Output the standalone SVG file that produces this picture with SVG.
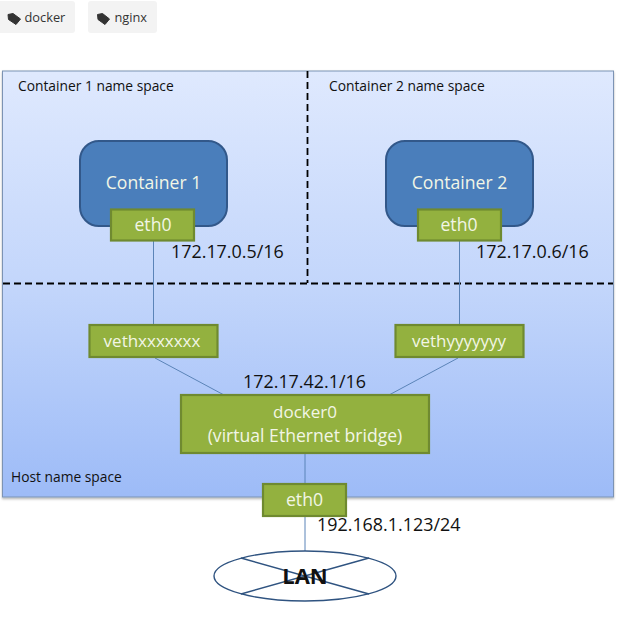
<svg xmlns="http://www.w3.org/2000/svg" width="637" height="617" viewBox="0 0 637 617">
<defs>
<linearGradient id="bg" x1="0" y1="0" x2="0" y2="1"><stop offset="0" stop-color="#dfe9fe"/><stop offset="0.5" stop-color="#c3d6fb"/><stop offset="1" stop-color="#9dbbf7"/></linearGradient>
<filter id="sh" x="-2%" y="-2%" width="104%" height="104%"><feDropShadow dx="0" dy="1.5" stdDeviation="1.2" flood-color="#000" flood-opacity="0.3"/></filter>
</defs>
<style>
text{font-family:"Open Sans","Noto Sans",sans-serif}
.tag{fill:#f3f3f3}
.tagt{font-size:12.8px;fill:#333}
.ns{font-size:13.8px;fill:#111}
.ip{font-size:17.9px;fill:#111}
.w{fill:#f2f6e6;font-size:17.6px;text-anchor:middle}
.g{fill:#93b13f;stroke:#6f8a30;stroke-width:2.2}
.c{stroke:#5b84b8;stroke-width:1;fill:none}
.d{stroke:#000;stroke-width:1.8;stroke-dasharray:7 4;fill:none}
.l{stroke:#2f5380;stroke-width:1.4;fill:none}
</style>
<g id="tag-docker"><rect class="tag" x="-4" y="1" width="79" height="32" rx="3"/><path d="M8 14.500 L13 13.500 L20.500 19 L16 24.500 L8.500 19.500 Z" fill="#333" stroke="#333" stroke-linejoin="round"/><text class="tagt" x="24.500" y="22">docker</text></g>
<g id="tag-nginx"><rect class="tag" x="88" y="1" width="69" height="32" rx="3"/><path d="M97.500 14.500 L102.500 13.500 L109.500 19 L105 24.500 L98 19.500 Z" fill="#333" stroke="#333" stroke-linejoin="round"/><text class="tagt" x="114.500" y="22">nginx</text></g>
<g id="namespace"><rect x="2.500" y="71" width="611" height="426" fill="url(#bg)" stroke="#7b93b4" stroke-width="1" filter="url(#sh)"/>
<text class="ns" x="18" y="91">Container 1 name space</text><text class="ns" x="329" y="91">Container 2 name space</text><text class="ns" x="11" y="482">Host name space</text></g>
<g id="connectors">
<path class="d" d="M307.500 71V283"/><path class="d" d="M3 283.500H613"/>
<path class="c" d="M153.500 241V325M459.500 241V325M155 358L224 395M458 358L389 395M305 454V484M305 516V551"/>
</g>
<g id="container1"><rect x="80" y="141" width="147" height="85" rx="19" fill="#4a7ebb" stroke="#32588a" stroke-width="2"/><text class="w" x="153.500" y="189">Container 1</text></g>
<g id="container2"><rect x="386" y="141" width="147" height="85" rx="19" fill="#4a7ebb" stroke="#32588a" stroke-width="2"/><text class="w" x="459.500" y="189">Container 2</text></g>
<g id="eth0-c1"><rect class="g" x="111" y="209.500" width="83" height="31"/><text class="w" x="153" y="231">eth0</text></g>
<g id="eth0-c2"><rect class="g" x="418" y="209.500" width="83" height="31"/><text class="w" x="459" y="231">eth0</text></g>
<g id="veth1"><rect class="g" x="89.500" y="325" width="128" height="32"/><text class="w" x="152" y="347" style="font-size:17px">vethxxxxxxx</text></g>
<g id="veth2"><rect class="g" x="395.500" y="325" width="128" height="32"/><text class="w" x="459" y="347" style="font-size:17px">vethyyyyyyy</text></g>
<g id="docker0"><rect class="g" x="181" y="395" width="248" height="58"/><text class="w" x="305" y="418" style="font-size:17px">docker0</text><text class="w" x="305" y="442">(virtual Ethernet bridge)</text></g>
<g id="eth0-host"><rect class="g" x="263" y="484" width="83" height="32"/><text class="w" x="304.500" y="506">eth0</text></g>
<g id="lan"><ellipse cx="305" cy="576" rx="91" ry="25" fill="#fff" class="l"/><path class="l" d="M241 558L369 594M369 558L241 594"/><text x="305" y="584" text-anchor="middle" font-size="22" font-weight="700" fill="#111">LAN</text></g>
<g id="ips"><text class="ip" x="171" y="258">172.17.0.5/16</text><text class="ip" x="476" y="258">172.17.0.6/16</text><text class="ip" x="243" y="388">172.17.42.1/16</text><text class="ip" x="317" y="531">192.168.1.123/24</text></g>
</svg>
